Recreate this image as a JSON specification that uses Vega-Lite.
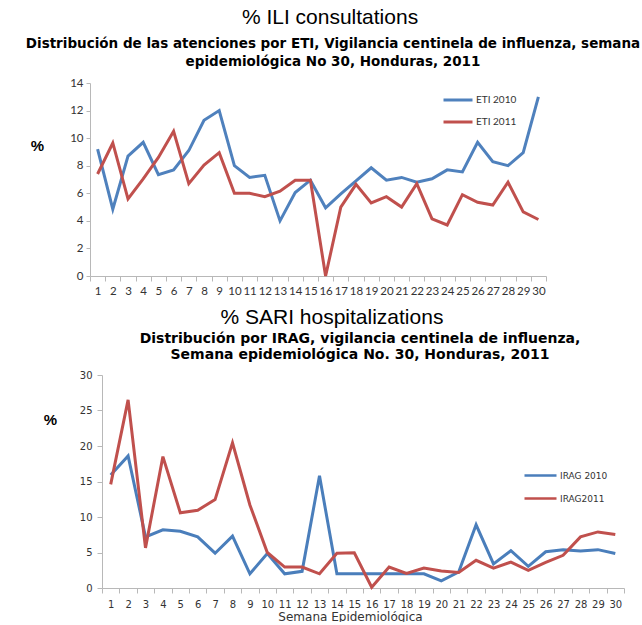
{
  "$schema": "https://vega.github.io/schema/vega-lite/v6.json",
  "background": "white",
  "padding": {"left": 25, "top": 6, "right": 0, "bottom": 0},
  "spacing": 10,
  "config": {"view": {"stroke": null}, "concat": {"spacing": 8}},
  "resolve": {"scale": {"color": "independent"}, "legend": {"color": "independent"}},
  "datasets": {
    "ili": [
      {"week": 1, "series": "ETI 2010", "value": 9.2}, {"week": 2, "series": "ETI 2010", "value": 4.85}, {"week": 3, "series": "ETI 2010", "value": 8.7}, {"week": 4, "series": "ETI 2010", "value": 9.7}, {"week": 5, "series": "ETI 2010", "value": 7.35}, {"week": 6, "series": "ETI 2010", "value": 7.7}, {"week": 7, "series": "ETI 2010", "value": 9.1}, {"week": 8, "series": "ETI 2010", "value": 11.3}, {"week": 9, "series": "ETI 2010", "value": 12.0}, {"week": 10, "series": "ETI 2010", "value": 8.0},
      {"week": 11, "series": "ETI 2010", "value": 7.15}, {"week": 12, "series": "ETI 2010", "value": 7.3}, {"week": 13, "series": "ETI 2010", "value": 4.0}, {"week": 14, "series": "ETI 2010", "value": 6.05}, {"week": 15, "series": "ETI 2010", "value": 6.95}, {"week": 16, "series": "ETI 2010", "value": 4.95}, {"week": 17, "series": "ETI 2010", "value": 5.95}, {"week": 18, "series": "ETI 2010", "value": 6.9}, {"week": 19, "series": "ETI 2010", "value": 7.85}, {"week": 20, "series": "ETI 2010", "value": 6.95},
      {"week": 21, "series": "ETI 2010", "value": 7.15}, {"week": 22, "series": "ETI 2010", "value": 6.8}, {"week": 23, "series": "ETI 2010", "value": 7.05}, {"week": 24, "series": "ETI 2010", "value": 7.7}, {"week": 25, "series": "ETI 2010", "value": 7.55}, {"week": 26, "series": "ETI 2010", "value": 9.7}, {"week": 27, "series": "ETI 2010", "value": 8.3}, {"week": 28, "series": "ETI 2010", "value": 8.0}, {"week": 29, "series": "ETI 2010", "value": 8.95}, {"week": 30, "series": "ETI 2010", "value": 13.0},
      {"week": 1, "series": "ETI 2011", "value": 7.4}, {"week": 2, "series": "ETI 2011", "value": 9.65}, {"week": 3, "series": "ETI 2011", "value": 5.6}, {"week": 4, "series": "ETI 2011", "value": 7.05}, {"week": 5, "series": "ETI 2011", "value": 8.6}, {"week": 6, "series": "ETI 2011", "value": 10.5}, {"week": 7, "series": "ETI 2011", "value": 6.7}, {"week": 8, "series": "ETI 2011", "value": 8.05}, {"week": 9, "series": "ETI 2011", "value": 8.95}, {"week": 10, "series": "ETI 2011", "value": 6.0},
      {"week": 11, "series": "ETI 2011", "value": 6.0}, {"week": 12, "series": "ETI 2011", "value": 5.75}, {"week": 13, "series": "ETI 2011", "value": 6.15}, {"week": 14, "series": "ETI 2011", "value": 6.95}, {"week": 15, "series": "ETI 2011", "value": 6.95}, {"week": 16, "series": "ETI 2011", "value": 0}, {"week": 17, "series": "ETI 2011", "value": 5.0}, {"week": 18, "series": "ETI 2011", "value": 6.65}, {"week": 19, "series": "ETI 2011", "value": 5.3}, {"week": 20, "series": "ETI 2011", "value": 5.75},
      {"week": 21, "series": "ETI 2011", "value": 5.0}, {"week": 22, "series": "ETI 2011", "value": 6.7}, {"week": 23, "series": "ETI 2011", "value": 4.15}, {"week": 24, "series": "ETI 2011", "value": 3.7}, {"week": 25, "series": "ETI 2011", "value": 5.9}, {"week": 26, "series": "ETI 2011", "value": 5.35}, {"week": 27, "series": "ETI 2011", "value": 5.15}, {"week": 28, "series": "ETI 2011", "value": 6.8}, {"week": 29, "series": "ETI 2011", "value": 4.65}, {"week": 30, "series": "ETI 2011", "value": 4.1}
    ],
    "sari": [
      {"week": 1, "series": "IRAG 2010", "value": 15.9}, {"week": 2, "series": "IRAG 2010", "value": 18.6}, {"week": 3, "series": "IRAG 2010", "value": 7.2}, {"week": 4, "series": "IRAG 2010", "value": 8.2}, {"week": 5, "series": "IRAG 2010", "value": 8.0}, {"week": 6, "series": "IRAG 2010", "value": 7.2}, {"week": 7, "series": "IRAG 2010", "value": 4.9}, {"week": 8, "series": "IRAG 2010", "value": 7.3}, {"week": 9, "series": "IRAG 2010", "value": 2.0}, {"week": 10, "series": "IRAG 2010", "value": 4.85},
      {"week": 11, "series": "IRAG 2010", "value": 2.0}, {"week": 12, "series": "IRAG 2010", "value": 2.35}, {"week": 13, "series": "IRAG 2010", "value": 15.8}, {"week": 14, "series": "IRAG 2010", "value": 2.0}, {"week": 15, "series": "IRAG 2010", "value": 2.0}, {"week": 16, "series": "IRAG 2010", "value": 2.0}, {"week": 17, "series": "IRAG 2010", "value": 2.0}, {"week": 18, "series": "IRAG 2010", "value": 2.0}, {"week": 19, "series": "IRAG 2010", "value": 2.0}, {"week": 20, "series": "IRAG 2010", "value": 1.0},
      {"week": 21, "series": "IRAG 2010", "value": 2.25}, {"week": 22, "series": "IRAG 2010", "value": 8.9}, {"week": 23, "series": "IRAG 2010", "value": 3.4}, {"week": 24, "series": "IRAG 2010", "value": 5.25}, {"week": 25, "series": "IRAG 2010", "value": 3.05}, {"week": 26, "series": "IRAG 2010", "value": 5.1}, {"week": 27, "series": "IRAG 2010", "value": 5.4}, {"week": 28, "series": "IRAG 2010", "value": 5.2}, {"week": 29, "series": "IRAG 2010", "value": 5.4}, {"week": 30, "series": "IRAG 2010", "value": 4.85},
      {"week": 1, "series": "IRAG2011", "value": 14.6}, {"week": 2, "series": "IRAG2011", "value": 26.5}, {"week": 3, "series": "IRAG2011", "value": 5.65}, {"week": 4, "series": "IRAG2011", "value": 18.5}, {"week": 5, "series": "IRAG2011", "value": 10.6}, {"week": 6, "series": "IRAG2011", "value": 10.95}, {"week": 7, "series": "IRAG2011", "value": 12.45}, {"week": 8, "series": "IRAG2011", "value": 20.45}, {"week": 9, "series": "IRAG2011", "value": 11.7}, {"week": 10, "series": "IRAG2011", "value": 5.0},
      {"week": 11, "series": "IRAG2011", "value": 2.95}, {"week": 12, "series": "IRAG2011", "value": 2.95}, {"week": 13, "series": "IRAG2011", "value": 2.0}, {"week": 14, "series": "IRAG2011", "value": 4.9}, {"week": 15, "series": "IRAG2011", "value": 4.95}, {"week": 16, "series": "IRAG2011", "value": 0.1}, {"week": 17, "series": "IRAG2011", "value": 2.95}, {"week": 18, "series": "IRAG2011", "value": 2.05}, {"week": 19, "series": "IRAG2011", "value": 2.8}, {"week": 20, "series": "IRAG2011", "value": 2.4},
      {"week": 21, "series": "IRAG2011", "value": 2.2}, {"week": 22, "series": "IRAG2011", "value": 3.9}, {"week": 23, "series": "IRAG2011", "value": 2.8}, {"week": 24, "series": "IRAG2011", "value": 3.65}, {"week": 25, "series": "IRAG2011", "value": 2.5}, {"week": 26, "series": "IRAG2011", "value": 3.6}, {"week": 27, "series": "IRAG2011", "value": 4.6}, {"week": 28, "series": "IRAG2011", "value": 7.2}, {"week": 29, "series": "IRAG2011", "value": 7.9}, {"week": 30, "series": "IRAG2011", "value": 7.55}
    ]
  },
  "vconcat": [
    {
      "title": {"text": "% ILI consultations", "font": "Liberation Sans", "fontSize": 21, "fontWeight": "normal", "color": "#000000", "anchor": "middle", "offset": 9, "dx": -3},
      "vconcat": [
        {
          "width": 456,
          "height": 193,
          "title": {"text": ["Distribución de las atenciones por ETI, Vigilancia centinela de influenza, semana", "epidemiológica No 30, Honduras, 2011"], "font": "DejaVu Sans", "fontSize": 13.5, "fontWeight": "bold", "color": "#000000", "lineHeight": 18, "anchor": "middle", "offset": 9, "dx": 15},
          "data": {"name": "ili"},
          "mark": {"type": "line", "strokeWidth": 3, "interpolate": "linear"},
          "encoding": {
            "x": {"field": "week", "type": "ordinal", "bandPosition": 0.5,
              "scale": {"type": "band", "paddingInner": 0, "paddingOuter": 0},
              "axis": {"title": null, "labelAngle": 0, "tickBand": "extent", "domainColor": "#b8b8b8", "tickColor": "#b8b8b8", "tickSize": 5, "labelFont": "Lato", "labelFontSize": 11.5, "labelColor": "#333333", "labelPadding": 4}},
            "y": {"field": "value", "type": "quantitative",
              "scale": {"domain": [0, 14], "nice": false},
              "axis": {"values": [0, 2, 4, 6, 8, 10, 12, 14], "grid": false, "domainColor": "#b8b8b8", "tickColor": "#b8b8b8", "tickSize": 4, "labelFont": "Lato", "labelFontSize": 11.5, "labelColor": "#333333", "labelPadding": 3,
                "title": "%", "titleAngle": 0, "titleFont": "Liberation Sans", "titleFontSize": 15, "titleFontWeight": "bold", "titleColor": "#000000", "titleX": -53, "titleY": 62, "titleAlign": "center", "titleBaseline": "middle"}},
            "color": {"field": "series", "type": "nominal",
              "scale": {"domain": ["ETI 2010", "ETI 2011"], "range": ["#4f81bd", "#c0504d"]},
              "legend": {"title": null, "orient": "none", "legendX": 352, "legendY": 1, "symbolType": "stroke", "symbolSize": 841, "symbolStrokeWidth": 3, "labelFont": "Lato", "labelFontSize": 10, "labelColor": "#333333", "labelOffset": 2, "rowPadding": -5}}
          }
        }
      ]
    },
    {
      "title": {"text": "% SARI hospitalizations", "font": "Liberation Sans", "fontSize": 21, "fontWeight": "normal", "color": "#000000", "anchor": "middle", "offset": 4, "dx": -2},
      "vconcat": [
        {
          "width": 534,
          "height": 213,
          "title": {"text": ["Distribución  por IRAG, vigilancia centinela de influenza,", "Semana epidemiológica No. 30, Honduras, 2011"], "font": "DejaVu Sans", "fontSize": 14, "fontWeight": "bold", "color": "#000000", "lineHeight": 16, "anchor": "middle", "offset": 8, "dx": 3},
          "data": {"name": "sari"},
          "mark": {"type": "line", "strokeWidth": 3, "interpolate": "linear"},
          "encoding": {
            "x": {"field": "week", "type": "ordinal", "bandPosition": 0.5,
              "scale": {"type": "band", "paddingInner": 0, "paddingOuter": 0, "range": [12, 534]},
              "axis": {"title": "Semana Epidemiológica", "labelAngle": 0, "tickBand": "extent", "domainColor": "#b8b8b8", "tickColor": "#b8b8b8", "tickSize": 5, "labelFont": "DejaVu Sans", "labelFontSize": 10, "labelColor": "#333333", "labelPadding": 6,
                "titleFont": "DejaVu Sans", "titleFontSize": 12, "titleFontWeight": "normal", "titleColor": "#333333", "titleX": 260, "titleY": 28, "titleBaseline": "middle"}},
            "y": {"field": "value", "type": "quantitative",
              "scale": {"domain": [0, 30], "nice": false},
              "axis": {"values": [0, 5, 10, 15, 20, 25, 30], "grid": false, "offset": -12, "domainColor": "#b8b8b8", "tickColor": "#b8b8b8", "tickSize": 5, "labelFont": "DejaVu Sans", "labelFontSize": 10, "labelColor": "#333333", "labelPadding": 5,
                "title": "%", "titleAngle": 0, "titleFont": "Liberation Sans", "titleFontSize": 15, "titleFontWeight": "bold", "titleColor": "#000000", "titleX": -52, "titleY": 44, "titleAlign": "center", "titleBaseline": "middle"}},
            "color": {"field": "series", "type": "nominal",
              "scale": {"domain": ["IRAG 2010", "IRAG2011"], "range": ["#4a7ebb", "#c0504d"]},
              "legend": {"title": null, "orient": "none", "legendX": 433, "legendY": 83, "symbolType": "stroke", "symbolSize": 1024, "symbolStrokeWidth": 2.5, "labelFont": "DejaVu Sans", "labelFontSize": 9, "labelColor": "#333333", "labelOffset": 2, "rowPadding": -11}}
          }
        }
      ]
    }
  ]
}
